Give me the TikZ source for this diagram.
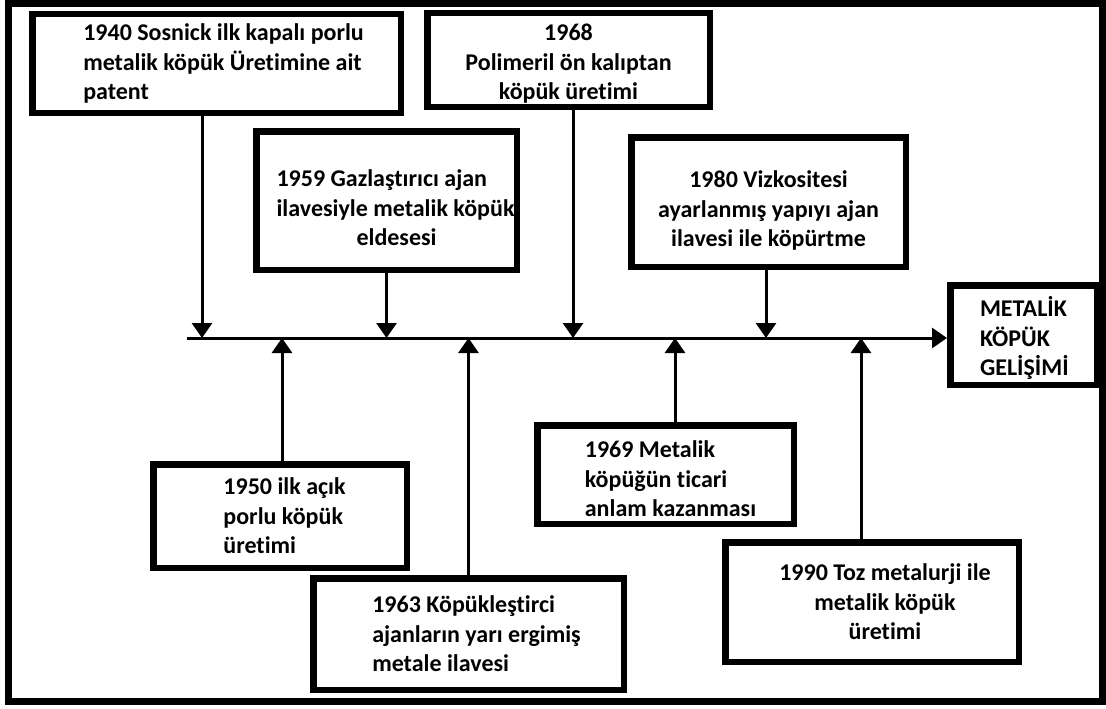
\documentclass[tikz,border=0pt]{standalone}
\usepackage{fontspec}
\setmainfont{Carlito}[Ligatures=NoCommon]
\usetikzlibrary{arrows.meta}
\tikzstyle{arrow} = [line width=3pt,-{Triangle[width=20pt,length=15pt]}]
\tikzstyle{event} = [rectangle, draw=black, line width=6.5pt, fill=white, inner sep=0pt, font=\fontsize{24}{29.5}\selectfont\bfseries]

\begin{document}
\begin{tikzpicture}[x=1pt, y=-1pt]
    \useasboundingbox (0,0) rectangle (1106,709);
    \draw[line width=6.5pt] (8.5,3.5) rectangle (1102.5,701.5);

    % Events above the time line
    \node[event, minimum width=368.5pt, minimum height=98.5pt, align=left] (b1940) at (216.5,63.5) {\hspace*{14pt}1940 Sosnick ilk kapalı porlu\\\hspace*{14pt}metalik köpük Üretimine ait\\\hspace*{14pt}patent};
    \node[event, minimum width=282.5pt, minimum height=93.5pt, align=center] (b1968) at (568.5,60) {\rule{0pt}{24pt}1968\\Polimeril ön kalıptan\\köpük üretimi};
    \node[event, minimum width=260.5pt, minimum height=138.5pt, align=left] (b1959) at (386.5,200.5) {\rule{0pt}{32pt}\hspace*{18pt}1959 Gazlaştırıcı ajan\\\hspace*{18pt}ilavesiyle metalik köpük\\\hspace*{98pt}eldesesi};
    \node[event, minimum width=274.5pt, minimum height=129.5pt, align=center] (b1980) at (768.5,202) {\rule{0pt}{34pt}1980 Vizkositesi\\ayarlanmış yapıyı ajan\\ilavesi ile köpürtme};

    % Result
    \node[event, minimum width=146.5pt, minimum height=99.5pt, text width=87pt, align=left] (metal) at (1023.5,335) {\rule{0pt}{27pt}METALİK\\KÖPÜK\\GELİŞİMİ};

    % Events below the time line
    \node[event, minimum width=253.5pt, minimum height=103.5pt, align=left] (b1950) at (280,516) {\hspace*{9pt}1950 ilk açık\\\hspace*{9pt}porlu köpük\\\hspace*{9pt}üretimi};
    \node[event, minimum width=310.5pt, minimum height=111.5pt, align=left] (b1963) at (468.5,634) {\hspace*{16pt}1963 Köpükleştirci\\\hspace*{16pt}ajanların yarı ergimiş\\\hspace*{16pt}metale ilavesi};
    \node[event, minimum width=256.5pt, minimum height=98.5pt, align=left] (b1969) at (665.5,474.5) {\rule{0pt}{26pt}\hspace*{10pt}1969 Metalik\\\hspace*{10pt}köpüğün ticari\\\hspace*{10pt}anlam kazanması};
    \node[event, minimum width=293.5pt, minimum height=119.5pt, align=center] (b1990) at (872,602) {\hspace*{26pt}1990 Toz metalurji ile\\\hspace*{26pt}metalik köpük\\\hspace*{26pt}üretimi};

    % Time line
    \coordinate (axis) at (187,338);
    \draw[arrow] (axis) -- (axis -| metal.west);

    \draw[arrow] ([xshift=-14.5pt]b1940.south) -- ([xshift=-14.5pt]b1940.south |- axis);
    \draw[arrow] (b1959.south) -- (b1959.south |- axis);
    \draw[arrow] ([xshift=4.5pt]b1968.south) -- ([xshift=4.5pt]b1968.south |- axis);
    \draw[arrow] ([xshift=-2.5pt]b1980.south) -- ([xshift=-2.5pt]b1980.south |- axis);

    \draw[arrow] ([xshift=2pt]b1950.north) -- ([xshift=2pt]b1950.north |- axis);
    \draw[arrow] (b1963.north) -- (b1963.north |- axis);
    \draw[arrow] ([xshift=9.5pt]b1969.north) -- ([xshift=9.5pt]b1969.north |- axis);
    \draw[arrow] ([xshift=-11pt]b1990.north) -- ([xshift=-11pt]b1990.north |- axis);
\end{tikzpicture}
\end{document}
